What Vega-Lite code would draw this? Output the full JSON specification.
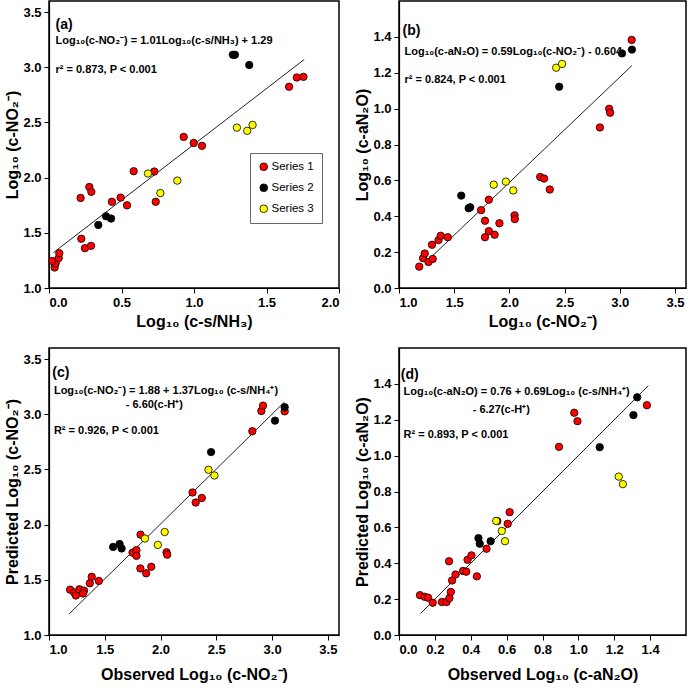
{
  "$schema": "https://vega.github.io/schema/vega-lite/v6.json",
  "usermeta": {"embedOptions": {"actions": false}},
  "padding": {"left": 4, "top": 0, "right": 0, "bottom": 0},
  "background": "white",
  "config": {
    "font": "Liberation Sans",
    "view": {"stroke": "black", "strokeWidth": 1.5},
    "axis": {"grid": false, "domainColor": "black", "domainWidth": 1.2, "tickColor": "black", "tickSize": 5, "tickWidth": 1,
      "labelFont": "Liberation Sans", "labelFontWeight": "bold", "labelFontSize": 13, "labelColor": "black", "labelPadding": 3,
      "titleFont": "Liberation Sans", "titleFontWeight": "bold", "titleFontSize": 16, "titleColor": "black"},
    "legend": {"labelFont": "Liberation Sans", "labelFontSize": 11.5, "labelColor": "black"}
  },
  "datasets": {
    "pa": [
      {"x":0.039,"y":1.186,"series":"Series 1"},{"x":0.046,"y":1.224,"series":"Series 1"},{"x":0.023,"y":1.245,"series":"Series 1"},{"x":0.067,"y":1.271,"series":"Series 1"},{"x":0.071,"y":1.315,"series":"Series 1"},
      {"x":0.218,"y":1.816,"series":"Series 1"},{"x":0.223,"y":1.446,"series":"Series 1"},{"x":0.248,"y":1.361,"series":"Series 1"},{"x":0.290,"y":1.382,"series":"Series 1"},{"x":0.278,"y":1.915,"series":"Series 1"},{"x":0.292,"y":1.871,"series":"Series 1"},{"x":0.434,"y":1.781,"series":"Series 1"},{"x":0.494,"y":1.819,"series":"Series 1"},{"x":0.538,"y":1.749,"series":"Series 1"},{"x":0.584,"y":2.058,"series":"Series 1"},{"x":0.726,"y":2.055,"series":"Series 1"},{"x":0.736,"y":1.781,"series":"Series 1"},{"x":0.929,"y":2.369,"series":"Series 1"},{"x":0.998,"y":2.314,"series":"Series 1"},{"x":1.055,"y":2.288,"series":"Series 1"},{"x":1.656,"y":2.823,"series":"Series 1"},{"x":1.709,"y":2.907,"series":"Series 1"},{"x":1.755,"y":2.913,"series":"Series 1"},
      {"x":0.340,"y":1.571,"series":"Series 2"},{"x":0.393,"y":1.650,"series":"Series 2"},{"x":0.428,"y":1.629,"series":"Series 2"},{"x":1.268,"y":3.113,"series":"Series 2"},{"x":1.282,"y":3.113,"series":"Series 2"},{"x":1.381,"y":3.020,"series":"Series 2"},
      {"x":0.683,"y":2.037,"series":"Series 3"},{"x":0.768,"y":1.860,"series":"Series 3"},{"x":0.885,"y":1.973,"series":"Series 3"},{"x":1.296,"y":2.453,"series":"Series 3"},{"x":1.367,"y":2.424,"series":"Series 3"},{"x":1.404,"y":2.477,"series":"Series 3"}
    ],
    "pb": [
      {"x":1.183,"y":0.119,"series":"Series 1"},{"x":1.218,"y":0.166,"series":"Series 1"},{"x":1.233,"y":0.192,"series":"Series 1"},{"x":1.267,"y":0.145,"series":"Series 1"},{"x":1.305,"y":0.162,"series":"Series 1"},{"x":1.299,"y":0.241,"series":"Series 1"},{"x":1.358,"y":0.267,"series":"Series 1"},{"x":1.378,"y":0.291,"series":"Series 1"},{"x":1.442,"y":0.283,"series":"Series 1"},{"x":1.744,"y":0.434,"series":"Series 1"},{"x":1.779,"y":0.375,"series":"Series 1"},{"x":1.779,"y":0.283,"series":"Series 1"},{"x":1.814,"y":0.492,"series":"Series 1"},{"x":1.814,"y":0.317,"series":"Series 1"},{"x":1.866,"y":0.297,"series":"Series 1"},{"x":1.910,"y":0.361,"series":"Series 1"},{"x":2.047,"y":0.405,"series":"Series 1"},{"x":2.049,"y":0.384,"series":"Series 1"},{"x":2.279,"y":0.619,"series":"Series 1"},{"x":2.314,"y":0.610,"series":"Series 1"},{"x":2.366,"y":0.549,"series":"Series 1"},{"x":2.820,"y":0.895,"series":"Series 1"},{"x":2.904,"y":0.999,"series":"Series 1"},{"x":2.913,"y":0.977,"series":"Series 1"},{"x":3.108,"y":1.383,"series":"Series 1"},
      {"x":1.564,"y":0.515,"series":"Series 2"},{"x":1.631,"y":0.445,"series":"Series 2"},{"x":1.645,"y":0.450,"series":"Series 2"},{"x":2.451,"y":1.122,"series":"Series 2"},{"x":3.020,"y":1.308,"series":"Series 2"},{"x":3.110,"y":1.329,"series":"Series 2"},
      {"x":1.858,"y":0.576,"series":"Series 3"},{"x":1.968,"y":0.593,"series":"Series 3"},{"x":2.035,"y":0.544,"series":"Series 3"},{"x":2.424,"y":1.228,"series":"Series 3"},{"x":2.477,"y":1.249,"series":"Series 3"}
    ],
    "pc": [
      {"x":1.189,"y":1.411,"series":"Series 1"},{"x":1.226,"y":1.385,"series":"Series 1"},{"x":1.241,"y":1.358,"series":"Series 1"},{"x":1.273,"y":1.414,"series":"Series 1"},{"x":1.314,"y":1.402,"series":"Series 1"},{"x":1.305,"y":1.376,"series":"Series 1"},{"x":1.366,"y":1.469,"series":"Series 1"},{"x":1.383,"y":1.527,"series":"Series 1"},{"x":1.447,"y":1.490,"series":"Series 1"},{"x":1.749,"y":1.746,"series":"Series 1"},{"x":1.784,"y":1.769,"series":"Series 1"},{"x":1.784,"y":1.717,"series":"Series 1"},{"x":1.821,"y":1.909,"series":"Series 1"},{"x":1.819,"y":1.603,"series":"Series 1"},{"x":1.871,"y":1.559,"series":"Series 1"},{"x":1.917,"y":1.618,"series":"Series 1"},{"x":2.054,"y":1.749,"series":"Series 1"},{"x":2.060,"y":1.728,"series":"Series 1"},{"x":2.287,"y":2.291,"series":"Series 1"},{"x":2.315,"y":2.200,"series":"Series 1"},{"x":2.370,"y":2.241,"series":"Series 1"},{"x":2.823,"y":2.846,"series":"Series 1"},{"x":2.904,"y":3.029,"series":"Series 1"},{"x":2.919,"y":3.078,"series":"Series 1"},{"x":3.113,"y":3.026,"series":"Series 1"},
      {"x":1.575,"y":1.798,"series":"Series 2"},{"x":1.633,"y":1.824,"series":"Series 2"},{"x":1.651,"y":1.784,"series":"Series 2"},{"x":2.453,"y":2.657,"series":"Series 2"},{"x":3.026,"y":2.942,"series":"Series 2"},{"x":3.113,"y":3.064,"series":"Series 2"},
      {"x":1.860,"y":1.874,"series":"Series 3"},{"x":1.976,"y":1.816,"series":"Series 3"},{"x":2.037,"y":1.933,"series":"Series 3"},{"x":2.430,"y":2.497,"series":"Series 3"},{"x":2.483,"y":2.445,"series":"Series 3"}
    ],
    "pd": [
      {"x":0.117,"y":0.222,"series":"Series 1"},{"x":0.143,"y":0.213,"series":"Series 1"},{"x":0.162,"y":0.208,"series":"Series 1"},{"x":0.188,"y":0.180,"series":"Series 1"},{"x":0.239,"y":0.184,"series":"Series 1"},{"x":0.265,"y":0.184,"series":"Series 1"},{"x":0.281,"y":0.206,"series":"Series 1"},{"x":0.289,"y":0.240,"series":"Series 1"},{"x":0.279,"y":0.411,"series":"Series 1"},{"x":0.296,"y":0.304,"series":"Series 1"},{"x":0.315,"y":0.337,"series":"Series 1"},{"x":0.357,"y":0.357,"series":"Series 1"},{"x":0.375,"y":0.353,"series":"Series 1"},{"x":0.382,"y":0.419,"series":"Series 1"},{"x":0.404,"y":0.444,"series":"Series 1"},{"x":0.434,"y":0.327,"series":"Series 1"},{"x":0.488,"y":0.481,"series":"Series 1"},{"x":0.548,"y":0.635,"series":"Series 1"},{"x":0.606,"y":0.620,"series":"Series 1"},{"x":0.617,"y":0.685,"series":"Series 1"},{"x":0.892,"y":1.049,"series":"Series 1"},{"x":0.977,"y":1.239,"series":"Series 1"},{"x":0.995,"y":1.192,"series":"Series 1"},{"x":1.382,"y":1.281,"series":"Series 1"},
      {"x":0.443,"y":0.540,"series":"Series 2"},{"x":0.450,"y":0.509,"series":"Series 2"},{"x":0.511,"y":0.523,"series":"Series 2"},{"x":1.119,"y":1.047,"series":"Series 2"},{"x":1.307,"y":1.226,"series":"Series 2"},{"x":1.328,"y":1.325,"series":"Series 2"},
      {"x":0.542,"y":0.636,"series":"Series 3"},{"x":0.573,"y":0.580,"series":"Series 3"},{"x":0.591,"y":0.523,"series":"Series 3"},{"x":1.225,"y":0.883,"series":"Series 3"},{"x":1.248,"y":0.841,"series":"Series 3"}
    ],
    "la": [{"x":0.03,"y":1.32},{"x":1.76,"y":3.07}],
    "lb": [{"x":1.27,"y":0.16},{"x":3.11,"y":1.24}],
    "lc": [{"x":1.18,"y":1.19},{"x":3.11,"y":3.11}],
    "ld": [{"x":0.12,"y":0.12},{"x":1.39,"y":1.39}],
    "ta": [
      {"x":0.045,"y":3.386,"kind":"letter","label":"(a)"},
      {"x":0.045,"y":3.24,"kind":"eq","label":"Log₁₀(c-NO₂⁻) = 1.01Log₁₀(c-s/NH₃) + 1.29"},
      {"x":0.045,"y":2.978,"kind":"eq","label":"r² = 0.873, P < 0.001"}
    ],
    "tb": [
      {"x":1.032,"y":1.432,"kind":"letter","label":"(b)"},
      {"x":1.05,"y":1.318,"kind":"eq","label":"Log₁₀(c-aN₂O) = 0.59Log₁₀(c-NO₂⁻) - 0.604"},
      {"x":1.05,"y":1.16,"kind":"eq","label":"r² = 0.824, P < 0.001"}
    ],
    "tc": [
      {"x":1.03,"y":3.372,"kind":"letter","label":"(c)"},
      {"x":1.044,"y":3.211,"kind":"eq","label":"Log₁₀(c-NO₂⁻) = 1.88 + 1.37Log₁₀ (c-s/NH₄⁺)"},
      {"x":1.688,"y":3.08,"kind":"eq","label":"- 6.60(c-H⁺)"},
      {"x":1.044,"y":2.847,"kind":"eq","label":"R² = 0.926, P < 0.001"}
    ],
    "td": [
      {"x":0.01,"y":1.449,"kind":"letter","label":"(d)"},
      {"x":0.025,"y":1.353,"kind":"eq","label":"Log₁₀(c-aN₂O) = 0.76 + 0.69Log₁₀ (c-s/NH₄⁺)"},
      {"x":0.411,"y":1.257,"kind":"eq","label":"- 6.27(c-H⁺)"},
      {"x":0.025,"y":1.117,"kind":"eq","label":"R² = 0.893, P < 0.001"}
    ]
  },
  "columns": 2,
  "spacing": {"row": 60, "column": 60},
  "bounds": "flush",
  "resolve": {"scale": {"color": "independent", "x": "independent", "y": "independent"}, "legend": {"color": "independent"}},
  "concat": [
    {
      "width": 290, "height": 287,
      "layer": [
        {"data": {"name": "la"}, "mark": {"type": "line", "color": "#222", "strokeWidth": 1},
         "encoding": {"x": {"field": "x", "type": "quantitative", "scale": {"domain": [0, 2]}, "axis": {"values": [0, 0.5, 1, 1.5, 2], "format": ".1f", "title": "Log₁₀ (c-s/NH₃)", "titlePadding": 4}},
                      "y": {"field": "y", "type": "quantitative", "scale": {"domain": [1, 3.5]}, "axis": {"values": [1, 1.5, 2, 2.5, 3, 3.5], "format": ".1f", "title": "Log₁₀ (c-NO₂⁻)", "titlePadding": 2}}}},
        {"data": {"name": "pa"}, "mark": {"type": "point", "shape": "circle", "filled": true, "size": 55, "stroke": "black", "strokeWidth": 0.8, "opacity": 1},
         "encoding": {"x": {"field": "x", "type": "quantitative"}, "y": {"field": "y", "type": "quantitative"},
                      "color": {"field": "series", "type": "nominal", "scale": {"domain": ["Series 1", "Series 2", "Series 3"], "range": ["#FF0000", "#000000", "#FFFF00"]},
                                "legend": {"title": null, "orient": "none", "legendX": 201, "legendY": 152, "padding": 8, "strokeColor": "#666", "fillColor": "white", "symbolSize": 60, "symbolStrokeColor": "black", "symbolStrokeWidth": 0.8, "symbolType": "circle", "rowPadding": 8, "labelOffset": 2, "labelFontSize": 11.5}}}},
        {"data": {"name": "ta"}, "transform": [{"filter": "datum.kind == 'letter'"}], "mark": {"type": "text", "align": "left", "baseline": "middle", "fontSize": 14, "fontWeight": "bold", "color": "black"},
         "encoding": {"x": {"field": "x", "type": "quantitative"}, "y": {"field": "y", "type": "quantitative"}, "text": {"field": "label"}}},
        {"data": {"name": "ta"}, "transform": [{"filter": "datum.kind == 'eq'"}], "mark": {"type": "text", "align": "left", "baseline": "middle", "fontSize": 11, "fontWeight": "bold", "color": "black"},
         "encoding": {"x": {"field": "x", "type": "quantitative"}, "y": {"field": "y", "type": "quantitative"}, "text": {"field": "label"}}}
      ]
    },
    {
      "width": 287, "height": 287,
      "layer": [
        {"data": {"name": "lb"}, "mark": {"type": "line", "color": "#222", "strokeWidth": 1},
         "encoding": {"x": {"field": "x", "type": "quantitative", "scale": {"domain": [1, 3.5]}, "axis": {"values": [1, 1.5, 2, 2.5, 3, 3.5], "format": ".1f", "title": "Log₁₀ (c-NO₂⁻)", "titlePadding": 4}},
                      "y": {"field": "y", "type": "quantitative", "scale": {"domain": [0, 1.5]}, "axis": {"values": [0, 0.2, 0.4, 0.6, 0.8, 1.0, 1.2, 1.4], "format": ".1f", "title": "Log₁₀ (c-aN₂O)", "titlePadding": 2}}}},
        {"data": {"name": "pb"}, "mark": {"type": "point", "shape": "circle", "filled": true, "size": 55, "stroke": "black", "strokeWidth": 0.8, "opacity": 1},
         "encoding": {"x": {"field": "x", "type": "quantitative"}, "y": {"field": "y", "type": "quantitative"},
                      "color": {"field": "series", "type": "nominal", "scale": {"domain": ["Series 1", "Series 2", "Series 3"], "range": ["#FF0000", "#000000", "#FFFF00"]}, "legend": null}}},
        {"data": {"name": "tb"}, "transform": [{"filter": "datum.kind == 'letter'"}], "mark": {"type": "text", "align": "left", "baseline": "middle", "fontSize": 14, "fontWeight": "bold", "color": "black"},
         "encoding": {"x": {"field": "x", "type": "quantitative"}, "y": {"field": "y", "type": "quantitative"}, "text": {"field": "label"}}},
        {"data": {"name": "tb"}, "transform": [{"filter": "datum.kind == 'eq'"}], "mark": {"type": "text", "align": "left", "baseline": "middle", "fontSize": 11, "fontWeight": "bold", "color": "black"},
         "encoding": {"x": {"field": "x", "type": "quantitative"}, "y": {"field": "y", "type": "quantitative"}, "text": {"field": "label"}}}
      ]
    },
    {
      "width": 290, "height": 287,
      "layer": [
        {"data": {"name": "lc"}, "mark": {"type": "line", "color": "#222", "strokeWidth": 1},
         "encoding": {"x": {"field": "x", "type": "quantitative", "scale": {"domain": [1, 3.5]}, "axis": {"values": [1, 1.5, 2, 2.5, 3, 3.5], "format": ".1f", "title": "Observed Log₁₀ (c-NO₂⁻)", "titlePadding": 10}},
                      "y": {"field": "y", "type": "quantitative", "scale": {"domain": [1, 3.5]}, "axis": {"values": [1, 1.5, 2, 2.5, 3, 3.5], "format": ".1f", "title": "Predicted Log₁₀ (c-NO₂⁻)", "titlePadding": 2}}}},
        {"data": {"name": "pc"}, "mark": {"type": "point", "shape": "circle", "filled": true, "size": 55, "stroke": "black", "strokeWidth": 0.8, "opacity": 1},
         "encoding": {"x": {"field": "x", "type": "quantitative"}, "y": {"field": "y", "type": "quantitative"},
                      "color": {"field": "series", "type": "nominal", "scale": {"domain": ["Series 1", "Series 2", "Series 3"], "range": ["#FF0000", "#000000", "#FFFF00"]}, "legend": null}}},
        {"data": {"name": "tc"}, "transform": [{"filter": "datum.kind == 'letter'"}], "mark": {"type": "text", "align": "left", "baseline": "middle", "fontSize": 14, "fontWeight": "bold", "color": "black"},
         "encoding": {"x": {"field": "x", "type": "quantitative"}, "y": {"field": "y", "type": "quantitative"}, "text": {"field": "label"}}},
        {"data": {"name": "tc"}, "transform": [{"filter": "datum.kind == 'eq'"}], "mark": {"type": "text", "align": "left", "baseline": "middle", "fontSize": 11, "fontWeight": "bold", "color": "black"},
         "encoding": {"x": {"field": "x", "type": "quantitative"}, "y": {"field": "y", "type": "quantitative"}, "text": {"field": "label"}}}
      ]
    },
    {
      "width": 287, "height": 287,
      "layer": [
        {"data": {"name": "ld"}, "mark": {"type": "line", "color": "#222", "strokeWidth": 1},
         "encoding": {"x": {"field": "x", "type": "quantitative", "scale": {"domain": [0, 1.5]}, "axis": {"values": [0, 0.2, 0.4, 0.6, 0.8, 1.0, 1.2, 1.4], "format": ".1f", "title": "Observed Log₁₀ (c-aN₂O)", "titlePadding": 10}},
                      "y": {"field": "y", "type": "quantitative", "scale": {"domain": [0, 1.5]}, "axis": {"values": [0, 0.2, 0.4, 0.6, 0.8, 1.0, 1.2, 1.4], "format": ".1f", "title": "Predicted Log₁₀ (c-aN₂O)", "titlePadding": 2}}}},
        {"data": {"name": "pd"}, "mark": {"type": "point", "shape": "circle", "filled": true, "size": 55, "stroke": "black", "strokeWidth": 0.8, "opacity": 1},
         "encoding": {"x": {"field": "x", "type": "quantitative"}, "y": {"field": "y", "type": "quantitative"},
                      "color": {"field": "series", "type": "nominal", "scale": {"domain": ["Series 1", "Series 2", "Series 3"], "range": ["#FF0000", "#000000", "#FFFF00"]}, "legend": null}}},
        {"data": {"name": "td"}, "transform": [{"filter": "datum.kind == 'letter'"}], "mark": {"type": "text", "align": "left", "baseline": "middle", "fontSize": 14, "fontWeight": "bold", "color": "black"},
         "encoding": {"x": {"field": "x", "type": "quantitative"}, "y": {"field": "y", "type": "quantitative"}, "text": {"field": "label"}}},
        {"data": {"name": "td"}, "transform": [{"filter": "datum.kind == 'eq'"}], "mark": {"type": "text", "align": "left", "baseline": "middle", "fontSize": 11, "fontWeight": "bold", "color": "black"},
         "encoding": {"x": {"field": "x", "type": "quantitative"}, "y": {"field": "y", "type": "quantitative"}, "text": {"field": "label"}}}
      ]
    }
  ]
}
